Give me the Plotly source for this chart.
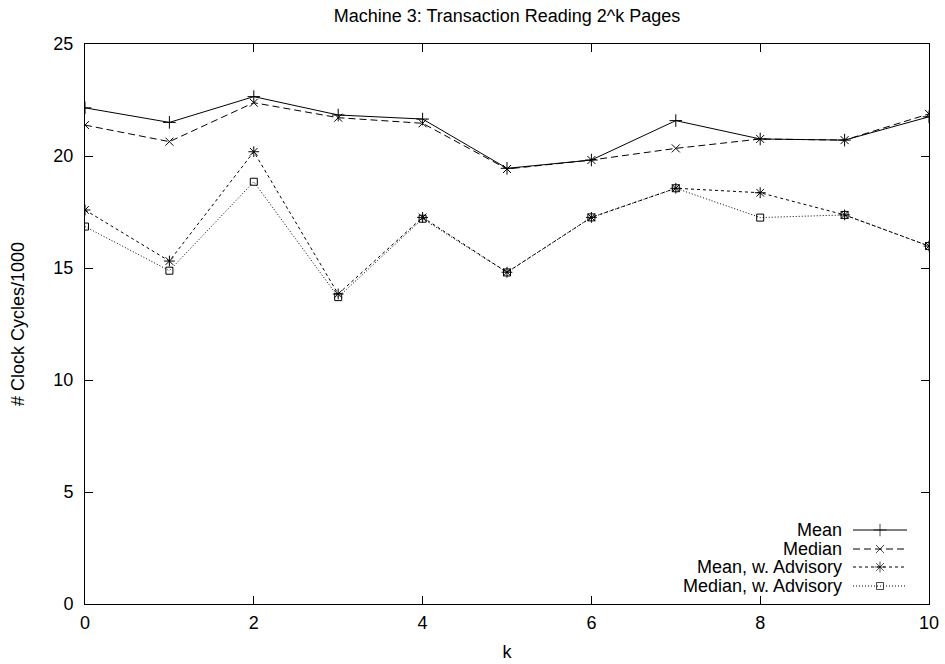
import plotly.graph_objects as go

k = [0, 1, 2, 3, 4, 5, 6, 7, 8, 9, 10]
mean = [22.15, 21.5, 22.65, 21.83, 21.65, 19.45, 19.82, 21.58, 20.76, 20.71, 21.75]
median = [21.38, 20.64, 22.38, 21.71, 21.46, 19.42, 19.82, 20.34, 20.76, 20.71, 21.88]
mean_adv = [17.59, 15.31, 20.19, 13.84, 17.26, 14.81, 17.26, 18.56, 18.36, 17.37, 15.98]
median_adv = [16.85, 14.88, 18.85, 13.7, 17.2, 14.8, 17.26, 18.56, 17.25, 17.37, 15.98]

names = ["Mean", "Median", "Mean, w. Advisory", "Median, w. Advisory"]
series = [mean, median, mean_adv, median_adv]
symbols = ["cross-thin-open", "x-thin-open", "asterisk-open", "square-open"]
dashes = ["solid", "7px,4px", "3px,3px", "1px,2px"]
msizes = [9, 8, 9, 7]

FONT = "Liberation Sans, Arial, sans-serif"
FS = 18
fig = go.Figure()

for name, ys, sym, dash, ms in zip(names, series, symbols, dashes, msizes):
    fig.add_trace(go.Scatter(
        x=k, y=ys, name=name, mode="lines+markers",
        line=dict(color="black", width=1, dash=dash),
        marker=dict(symbol=sym, size=ms, color="black",
                    line=dict(color="black", width=1)),
        showlegend=False,
    ))

# gnuplot-style key: text on left, sample on right (pixel-coordinate overlay axes)
rows = [530, 549, 567, 586]
for name, sym, dash, ms, yy in zip(names, symbols, dashes, msizes, rows):
    fig.add_trace(go.Scatter(
        x=[853, 880, 907], y=[yy, yy, yy], xaxis="x2", yaxis="y2",
        mode="lines+markers", showlegend=False, hoverinfo="skip",
        line=dict(color="black", width=1, dash=dash),
        marker=dict(symbol=sym, size=[0, ms, 0], color="black",
                    line=dict(color="black", width=1)),
    ))
    fig.add_annotation(x=843, y=yy, xref="x2", yref="y2", text=name,
                       showarrow=False, xanchor="right", yanchor="middle",
                       borderpad=0,
                       font=dict(family=FONT, size=FS, color="black"))

fig.update_layout(
    width=945, height=664,
    margin=dict(l=85, r=16, t=44, b=60),
    paper_bgcolor="white", plot_bgcolor="white",
    font=dict(family=FONT, size=FS, color="black"),
    title=dict(text="Machine 3: Transaction Reading 2^k Pages",
               x=0.5, xref="paper", xanchor="center",
               y=1 - 16 / 664, yanchor="middle",
               font=dict(family=FONT, size=FS, color="black")),
    xaxis=dict(range=[0, 10], dtick=2, tick0=0, ticks="inside", ticklen=8,
               tickcolor="black", showline=True, linecolor="black", linewidth=1,
               mirror="ticks", showgrid=False, zeroline=False, automargin=False,
               ticklabelstandoff=2,
               title=dict(text="k", standoff=13, font=dict(family=FONT, size=FS))),
    yaxis=dict(range=[0, 25], dtick=5, tick0=0, ticks="inside", ticklen=8,
               tickcolor="black", showline=True, linecolor="black", linewidth=1,
               mirror="ticks", showgrid=False, zeroline=False, automargin=False,
               ticklabelstandoff=7,
               title=dict(text="# Clock Cycles/1000", standoff=24,
                          font=dict(family=FONT, size=FS))),
    xaxis2=dict(range=[85, 929], overlaying="x", visible=False, fixedrange=True),
    yaxis2=dict(range=[604, 44], overlaying="y", visible=False, fixedrange=True),
)

fig.write_html("out.html",
               config={"displayModeBar": False, "staticPlot": True},
               post_script="document.body.style.margin='0';"
                           "document.body.style.overflow='hidden';")
